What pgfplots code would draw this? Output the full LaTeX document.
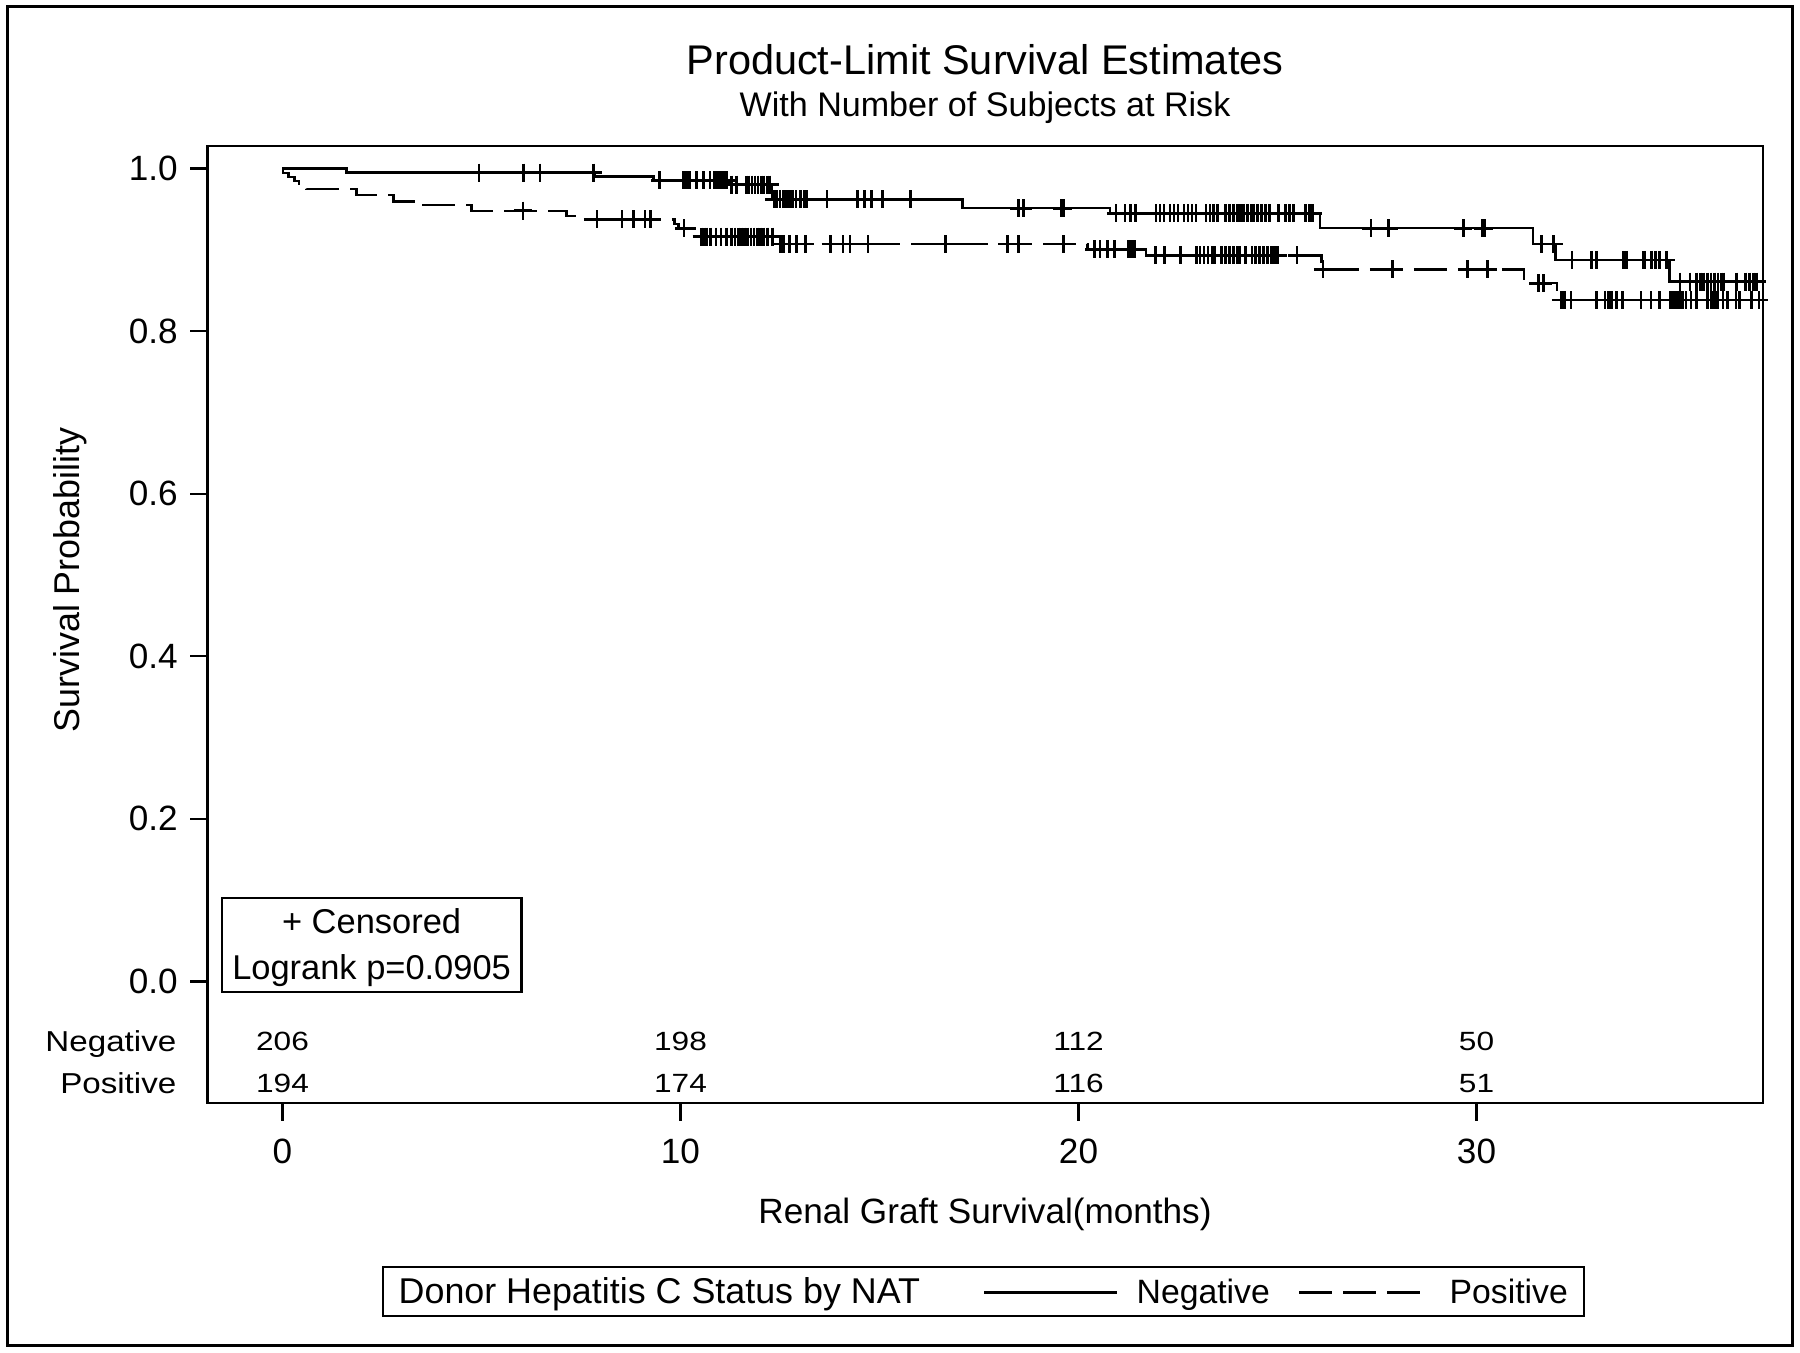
\documentclass[border=0pt]{standalone}
\usepackage{fontspec}
\setmainfont{Liberation Sans}
\usepackage{graphicx}
\usepackage{pgfplots}
\pgfplotsset{compat=1.18}
\usepackage{pgfplotstable}

\pgfplotstableread{
t S
0 1.0
1.61 0.9951
7.85 0.9903
9.32 0.9855
11.21 0.9803
12.30 0.9622
17.09 0.9512
20.79 0.9450
26.07 0.9266
31.42 0.9072
31.98 0.8876
34.85 0.8609
37.19 0.8609
}\negsteps

\pgfplotstableread{
t S
0 1.0
0.02 0.9948
0.15 0.9897
0.30 0.9845
0.42 0.9794
0.60 0.9750
1.86 0.9675
2.79 0.9593
3.30 0.9552
4.75 0.9482
7.14 0.9420
7.40 0.9376
9.85 0.9320
9.95 0.9266
10.35 0.9215
10.45 0.9162
12.42 0.9072
20.23 0.9007
21.70 0.8933
26.10 0.8761
31.20 0.8589
32.02 0.8383
37.19 0.8383
}\possteps

\pgfplotstableread{
t S
4.94 0.9951
6.05 0.9951
6.47 0.9951
7.81 0.9951
9.48 0.9855
10.06 0.9855
10.12 0.9855
10.18 0.9855
10.24 0.9855
10.41 0.9855
10.57 0.9855
10.74 0.9855
10.85 0.9855
10.91 0.9855
10.98 0.9855
11.05 0.9855
11.12 0.9855
11.17 0.9855
11.28 0.9803
11.40 0.9803
11.65 0.9803
11.72 0.9803
11.80 0.9803
11.87 0.9803
11.95 0.9803
12.03 0.9803
12.10 0.9803
12.18 0.9803
12.25 0.9803
12.35 0.9622
12.42 0.9622
12.50 0.9622
12.58 0.9622
12.66 0.9622
12.74 0.9622
12.82 0.9622
12.90 0.9622
13.02 0.9622
13.10 0.9622
13.17 0.9622
13.68 0.9622
14.44 0.9622
14.62 0.9622
14.80 0.9622
15.07 0.9622
15.77 0.9622
18.50 0.9512
18.61 0.9512
19.58 0.9512
19.62 0.9512
20.94 0.9450
21.17 0.9450
21.30 0.9450
21.44 0.9450
21.95 0.9450
22.05 0.9450
22.15 0.9450
22.30 0.9450
22.40 0.9450
22.50 0.9450
22.65 0.9450
22.75 0.9450
22.85 0.9450
22.95 0.9450
23.20 0.9450
23.30 0.9450
23.40 0.9450
23.50 0.9450
23.70 0.9450
23.80 0.9450
23.90 0.9450
24.00 0.9450
24.07 0.9450
24.15 0.9450
24.25 0.9450
24.35 0.9450
24.41 0.9450
24.50 0.9450
24.60 0.9450
24.70 0.9450
24.80 0.9450
25.02 0.9450
25.20 0.9450
25.30 0.9450
25.40 0.9450
25.70 0.9450
25.80 0.9450
25.88 0.9450
27.35 0.9266
27.79 0.9266
29.67 0.9266
30.15 0.9266
30.20 0.9266
31.64 0.9072
31.94 0.9072
32.40 0.8876
32.89 0.8876
33.02 0.8876
33.68 0.8876
33.72 0.8876
33.76 0.8876
34.19 0.8876
34.23 0.8876
34.40 0.8876
34.50 0.8876
34.60 0.8876
34.77 0.8876
35.11 0.8609
35.36 0.8609
35.53 0.8609
35.62 0.8609
35.71 0.8609
35.80 0.8609
35.89 0.8609
35.98 0.8609
36.07 0.8609
36.16 0.8609
36.20 0.8609
36.54 0.8609
36.75 0.8609
36.85 0.8609
36.95 0.8609
37.04 0.8609
}\negcens

\pgfplotstableread{
t S
6.04 0.9482
7.90 0.9376
8.53 0.9376
8.82 0.9376
9.11 0.9376
9.24 0.9376
10.09 0.9266
10.53 0.9162
10.60 0.9162
10.66 0.9162
10.76 0.9162
10.89 0.9162
11.02 0.9162
11.16 0.9162
11.29 0.9162
11.37 0.9162
11.45 0.9162
11.53 0.9162
11.61 0.9162
11.69 0.9162
11.77 0.9162
11.85 0.9162
11.93 0.9162
12.01 0.9162
12.09 0.9162
12.17 0.9162
12.20 0.9162
12.32 0.9162
12.50 0.9072
12.55 0.9072
12.60 0.9072
12.73 0.9072
12.91 0.9072
13.14 0.9072
13.77 0.9072
14.08 0.9072
14.26 0.9072
14.71 0.9072
16.66 0.9072
18.21 0.9072
18.50 0.9072
19.63 0.9072
20.40 0.9007
20.54 0.9007
20.72 0.9007
20.90 0.9007
21.26 0.9007
21.33 0.9007
21.40 0.9007
21.93 0.8933
22.16 0.8933
22.56 0.8933
22.96 0.8933
23.05 0.8933
23.15 0.8933
23.25 0.8933
23.35 0.8933
23.41 0.8933
23.60 0.8933
23.70 0.8933
23.80 0.8933
23.90 0.8933
24.00 0.8933
24.05 0.8933
24.20 0.8933
24.36 0.8933
24.45 0.8933
24.55 0.8933
24.65 0.8933
24.75 0.8933
24.85 0.8933
24.93 0.8933
25.00 0.8933
25.49 0.8933
26.14 0.8761
27.89 0.8761
29.78 0.8761
30.28 0.8761
31.55 0.8589
31.68 0.8589
32.12 0.8383
32.17 0.8383
32.22 0.8383
32.37 0.8383
33.02 0.8383
33.23 0.8383
33.30 0.8383
33.37 0.8383
33.40 0.8383
33.52 0.8383
33.67 0.8383
34.13 0.8383
34.38 0.8383
34.59 0.8383
34.88 0.8383
34.95 0.8383
35.02 0.8383
35.10 0.8383
35.18 0.8383
35.26 0.8383
35.39 0.8383
35.52 0.8383
35.81 0.8383
35.90 0.8383
35.98 0.8383
36.06 0.8383
36.19 0.8383
36.31 0.8383
36.52 0.8383
36.60 0.8383
36.90 0.8383
37.10 0.8383
}\poscens

\begin{document}
\begin{tikzpicture}[x=1cm,y=1cm]
\path[use as bounding box] (0,0) rectangle (18,13.53);
\draw[line width=0.3mm] (0.07,0.07) rectangle (17.92,13.46);
\begin{axis}[
  at={(2.077cm,2.50cm)}, anchor=south west,
  width=15.55cm, height=9.57cm, scale only axis,
  xmin=-1.879, xmax=37.19, ymin=-0.1495, ymax=1.0278,
  xtick={0,10,20,30}, ytick={0,0.2,0.4,0.6,0.8,1.0},
  tick pos=left, tick align=outside, major tick length=1.75mm,
  axis line style={line width=0.24mm},
  every tick/.style={black, line width=0.22mm},
  /pgf/number format/assume math mode=true,
  tick label style={font=\fontsize{10}{11}\selectfont},
  yticklabel style={/pgf/number format/.cd, fixed, fixed zerofill, precision=1},
  xticklabel style={yshift=-0.6mm},
  clip=true,
]
\addplot[const plot, black, line width=0.24mm] table[x=t,y=S] {\negsteps};
\addplot[const plot, black, line width=0.24mm, dash pattern=on 3.3mm off 1.1mm] table[x=t,y=S] {\possteps};
\addplot[only marks, mark=+, mark size=0.9mm, mark options={solid, black, line width=0.27mm}] table[x=t,y=S] {\negcens};
\addplot[only marks, mark=+, mark size=0.9mm, mark options={solid, black, line width=0.27mm}] table[x=t,y=S] {\poscens};
\node[anchor=base, font=\fontsize{7.5}{8}\selectfont] at (axis cs:0,-0.0851) {\scalebox{1.2}[1]{206}};
\node[anchor=base, font=\fontsize{7.5}{8}\selectfont] at (axis cs:10,-0.0851) {\scalebox{1.2}[1]{198}};
\node[anchor=base, font=\fontsize{7.5}{8}\selectfont] at (axis cs:20,-0.0851) {\scalebox{1.2}[1]{112}};
\node[anchor=base, font=\fontsize{7.5}{8}\selectfont] at (axis cs:30,-0.0851) {\scalebox{1.2}[1]{50}};
\node[anchor=base, font=\fontsize{7.5}{8}\selectfont] at (axis cs:0,-0.1368) {\scalebox{1.2}[1]{194}};
\node[anchor=base, font=\fontsize{7.5}{8}\selectfont] at (axis cs:10,-0.1368) {\scalebox{1.2}[1]{174}};
\node[anchor=base, font=\fontsize{7.5}{8}\selectfont] at (axis cs:20,-0.1368) {\scalebox{1.2}[1]{116}};
\node[anchor=base, font=\fontsize{7.5}{8}\selectfont] at (axis cs:30,-0.1368) {\scalebox{1.2}[1]{51}};
\end{axis}
% titles
\node[anchor=base, font=\fontsize{11.8}{14}\selectfont] at (9.85,12.78) {Product-Limit Survival Estimates};
\node[anchor=base, font=\fontsize{9.7}{12}\selectfont] at (9.85,12.363) {With Number of Subjects at Risk};
\node[anchor=base, font=\fontsize{10}{12}\selectfont] at (9.85,1.297) {Renal Graft Survival(months)};
\node[anchor=base, rotate=90, font=\fontsize{10.2}{12}\selectfont] at (0.80,7.73) {Survival Probability};
% at-risk row labels
\node[anchor=base east, inner sep=0pt, font=\fontsize{8.2}{9}\selectfont] at (1.77,3.01) {\scalebox{1.15}[1]{Negative}};
\node[anchor=base east, inner sep=0pt, font=\fontsize{8.2}{9}\selectfont] at (1.77,2.59) {\scalebox{1.15}[1]{Positive}};
% censored box
\draw[line width=0.22mm] (2.219,3.613) rectangle (5.214,4.55);
\node[anchor=base, font=\fontsize{9.8}{12}\selectfont] at (3.716,4.197) {+ Censored};
\node[anchor=base, font=\fontsize{9.8}{12}\selectfont] at (3.716,3.73) {Logrank p=0.0905};
% legend
\draw[line width=0.25mm] (3.83,0.37) rectangle (15.84,0.86);
\node[anchor=base west, inner sep=0pt, font=\fontsize{10.2}{12}\selectfont] at (3.98,0.49) {Donor Hepatitis C Status by NAT};
\draw[line width=0.22mm] (9.84,0.604) -- (11.17,0.604);
\node[anchor=base west, inner sep=0pt, font=\fontsize{9.6}{12}\selectfont] at (11.36,0.49) {Negative};
\draw[line width=0.22mm, dash pattern=on 3.3mm off 1.1mm] (12.99,0.604) -- (14.20,0.604);
\node[anchor=base west, inner sep=0pt, font=\fontsize{9.6}{12}\selectfont] at (14.49,0.49) {Positive};
\end{tikzpicture}
\end{document}
